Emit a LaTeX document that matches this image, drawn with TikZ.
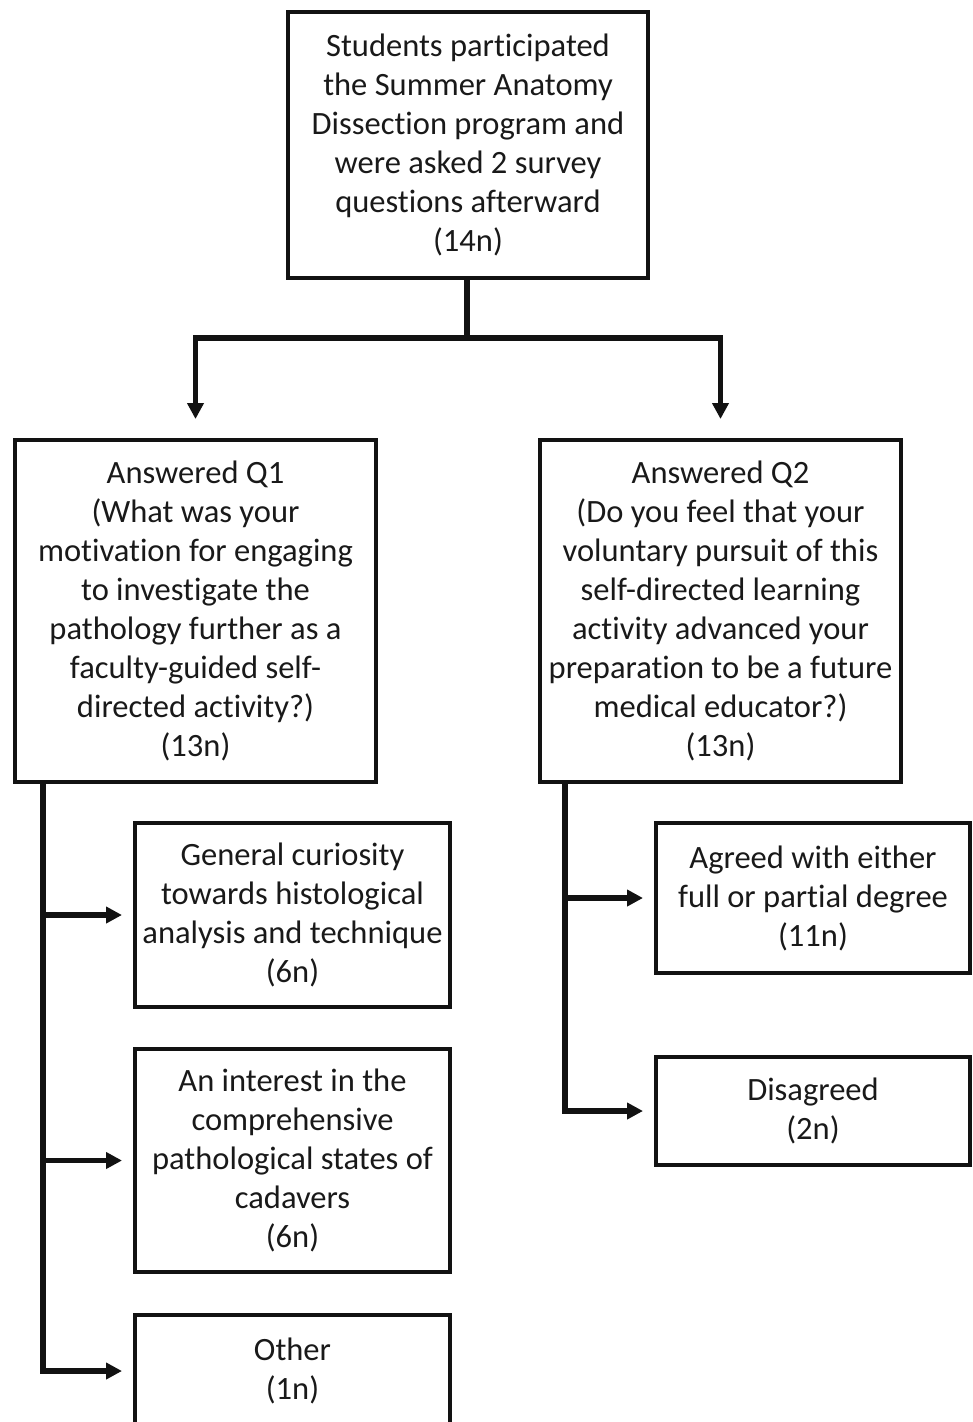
\documentclass[tikz,border=0pt]{standalone}
\usepackage{fontspec}
\setmainfont{Carlito}[Ligatures={NoCommon}]
\usetikzlibrary{arrows.meta}
\begin{document}
\begin{tikzpicture}[x=0.75pt,y=-0.75pt,
  box/.style={draw=black!93, line width=3.5pt, align=center, inner sep=0pt,
    font=\fontsize{24.4}{29.25}\selectfont, text=black!90},
  conn/.style={draw=black!93, line width=3.8pt},
  arr/.style={conn, -{Triangle[length=12pt,width=12pt]}}]
\useasboundingbox (0,0) rectangle (973,1422);
\begin{scope}
\clip (0,0) rectangle (973,1422);
\node[box, minimum width=270pt, minimum height=199.5pt] (top) at (468,145)
  {Students participated\\the Summer Anatomy\\Dissection program and\\were asked 2 survey\\questions afterward\\(14n)};
\node[box, minimum width=270.75pt, minimum height=256.5pt] (q1) at (195.5,611)
  {Answered Q1\\(What was your\\motivation for engaging\\to investigate the\\pathology further as a\\faculty-guided self-\\directed activity?)\\(13n)};
\node[box, minimum width=270.75pt, minimum height=256.5pt] (q2) at (720.5,611)
  {Answered Q2\\(Do you feel that your\\voluntary pursuit of this\\self-directed learning\\activity advanced your\\preparation to be a future\\medical educator?)\\(13n)};
\node[box, minimum width=236.25pt, minimum height=138pt] (a) at (292.5,915)
  {General curiosity\\towards histological\\analysis and technique\\(6n)};
\node[box, minimum width=236.25pt, minimum height=167.25pt] (b) at (292.5,1160.5)
  {An interest in the\\comprehensive\\pathological states of\\cadavers\\(6n)};
\node[box, minimum width=236.25pt, minimum height=84pt] (c) at (292.5,1371)
  {Other\\(1n)};
\node[box, minimum width=235.5pt, minimum height=112.5pt] (d) at (813,898)
  {Agreed with either\\full or partial degree\\(11n)};
\node[box, minimum width=235.5pt, minimum height=81pt] (e) at (813,1111)
  {Disagreed\\(2n)};
\end{scope}
\coordinate (j) at (467,338);
\coordinate (tl) at (43,0);
\coordinate (tr) at (565,0);
\draw[conn] (top.south -| j) -- (j);
\draw[arr, shorten >=14pt] (j) -| (q1.north);
\draw[arr, shorten >=14pt] (j) -| (q2.north);
\draw[arr, shorten >=8pt] (q1.south -| tl) |- (c.west);
\draw[arr, shorten >=8pt] (a.west -| tl) -- (a.west);
\draw[arr, shorten >=8pt] (b.west -| tl) -- (b.west);
\draw[arr, shorten >=8pt] (q2.south -| tr) |- (e.west);
\draw[arr, shorten >=8pt] (d.west -| tr) -- (d.west);
\end{tikzpicture}
\end{document}
